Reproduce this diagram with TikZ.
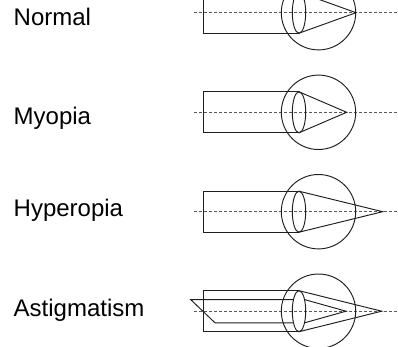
\documentclass[tikz,border=0pt]{standalone}
\usepackage{fontspec}
\setmainfont{Liberation Sans}
\begin{document}
\begin{tikzpicture}[x=1pt,y=-1pt,
  outline/.style={line width=0.95pt, black!88, line join=miter},
  axisline/.style={line width=0.95pt, black!65, dash pattern=on 3pt off 2pt},
  caption/.style={anchor=base west, inner sep=0pt, font=\fontsize{24}{28}\selectfont}]
\useasboundingbox (0,0) rectangle (398,347);
\clip (0,0) rectangle (398,347);

% One eye: optical axis, eyeball, lens and incoming beam.
% #1 = height of the optical axis, #2 = where the rays meet
\newcommand\eyerow[2]{%
  \draw[axisline] (194,#1) -- (398,#1);
  \draw[outline] (318.5,#1) circle[radius=37.2];
  \draw[outline] (299,#1) ellipse[x radius=6.7, y radius=20.5];
  \draw[outline] (299,#1-20.5) -- (203.3,#1-20.5) -- (203.3,#1+20.5) -- (299,#1+20.5);
  \draw[outline] (299,#1-20.5) -- (#2,#1) -- (299,#1+20.5);
}

\eyerow{12.7}{356}
\eyerow{112.3}{346.7}
\eyerow{211.7}{382.7}
\eyerow{311.2}{381.7}

% second, skewed beam of the astigmatic eye
\draw[outline] (293.4,299.6) -- (190.7,299.6) -- (215,322.8) -- (293.4,322.8);
\draw[outline] (304.6,299.6) -- (346,311.2) -- (304.6,322.8);

\node[caption] (normal) at (13.5,25.5) {Normal};
\node[caption] (myopia) at (13.5,124.3) {Myopia};
\node[caption] (hyperopia) at (13.5,216) {Hyperopia};
\node[caption] (astigmatism) at (13.5,316) {Astigmatism};
\end{tikzpicture}
\end{document}
